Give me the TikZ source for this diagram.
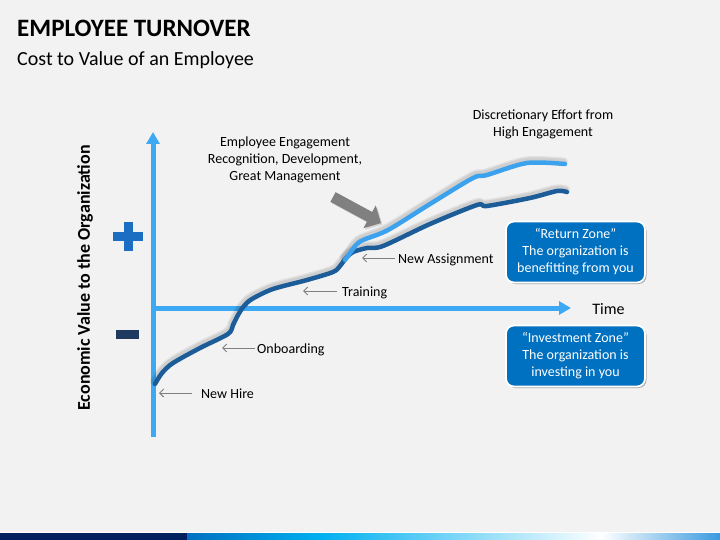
\documentclass[tikz,border=0pt]{standalone}
\usepackage{fontspec}
\setmainfont{Carlito}
\usetikzlibrary{arrows.meta,shadows}
\definecolor{bg}{HTML}{F2F2F2}
\definecolor{axisblue}{HTML}{3DA9F4}
\definecolor{darkcurve}{HTML}{1C5C99}
\definecolor{lightcurve}{HTML}{3CA2EE}
\definecolor{boxblue}{HTML}{0070C0}
\definecolor{plusblue}{HTML}{1B6EC2}
\definecolor{minusnavy}{HTML}{1F3A5F}
\definecolor{arrgray}{HTML}{808080}
\definecolor{lblgray}{HTML}{7F7F7F}
\definecolor{barnavy}{HTML}{002060}
\definecolor{barblue}{HTML}{0070C0}
\definecolor{barcyan}{HTML}{00B0F0}
\definecolor{barend}{HTML}{3A9AE0}
\tikzset{
  axisline/.style={draw=axisblue, line width=5pt, -{Triangle[width=13pt,length=12pt]}},
  curveshadow/.style={draw=black, opacity=0.07, line width=8pt, line cap=round, line join=round},
  curveshadowin/.style={draw=black, opacity=0.08, line width=5pt, line cap=round, line join=round},
  darkline/.style={draw=darkcurve, line width=4.5pt, line cap=round, line join=round},
  lightline/.style={draw=lightcurve, line width=4.5pt, line cap=round, line join=round},
  lbl/.style={font=\fontsize{14}{17}\selectfont, inner sep=0pt, anchor=base west},
  lblarrow/.style={draw=lblgray, line width=1pt, -{Straight Barb[length=4pt,width=8pt]}},
  note/.style={font=\fontsize{14}{17}\selectfont, align=center, inner sep=0pt, anchor=base},
  zonebox/.style={fill=boxblue, draw=white, line width=1.8pt, rounded corners=8pt,
    minimum width=139pt, minimum height=61pt, align=center, text=white, inner sep=0pt,
    font=\fontsize{14}{17}\selectfont,
    drop shadow={shadow xshift=1.5pt, shadow yshift=-1.5pt, opacity=0.3, fill=black}},
}
\begin{document}
\begin{tikzpicture}[x=1pt,y=-1pt]
\fill[bg] (0,0) rectangle (720,540);
\useasboundingbox (0,0) rectangle (720,540);

% bottom bar
\fill[white] (0,531.5) rectangle (720,533);
\fill[barnavy] (0,533) rectangle (187,540);
\shade[left color=barblue, right color=barcyan] (187,533) rectangle (321,540);
\shade[left color=barcyan, right color=white] (321,533) rectangle (601,540);
\shade[left color=white, right color=barend] (601,533) rectangle (720,540);

% title
\node[anchor=base west, inner sep=0pt, font=\fontsize{25}{30}\selectfont\bfseries] (title) at (17,36.5) {EMPLOYEE TURNOVER};
\node[anchor=base west, inner sep=0pt, font=\fontsize{20}{24}\selectfont] (subtitle) at (17,66) {Cost to Value of an Employee};

% axes
\coordinate (origin) at (153,437);
\coordinate (ytop) at (153,132);
\coordinate (xleft) at (153,308);
\coordinate (xright) at (571,308);
\draw[axisline] (origin) -- (ytop);
\draw[axisline] (xleft) -- (xright);
\node[anchor=center, inner sep=0pt, font=\fontsize{16}{19}\selectfont] (time) at (608.5,309) {Time};
\node[rotate=90, inner sep=0pt, font=\fontsize{18}{22}\selectfont\bfseries] (ylabel) at (85,278) {Economic Value to the Organization};

% plus and minus
\fill[plusblue] (113,232) rectangle (143,241);
\fill[plusblue] (124,222) rectangle (133,251);
\fill[minusnavy] (116,330) rectangle (139,339);

% curves: shadows
\begin{scope}[shift={(-1,-2.5)}]
\draw[curveshadow] plot[smooth, tension=0.5] coordinates {(155,384) (162,373) (173,363) (200,348) (228,334) (233,325) (238,315) (244,306) (252,299) (273,289) (307,280) (333,272) (340,266) (346,258) (353,252) (367,248) (383,246) (430,224) (477,205) (487,206) (530,198) (557,191) (567,192)};
\draw[curveshadowin] plot[smooth, tension=0.5] coordinates {(155,384) (162,373) (173,363) (200,348) (228,334) (233,325) (238,315) (244,306) (252,299) (273,289) (307,280) (333,272) (340,266) (346,258) (353,252) (367,248) (383,246) (430,224) (477,205) (487,206) (530,198) (557,191) (567,192)};
\draw[curveshadow] plot[smooth, tension=0.5] coordinates {(345,260) (350,253) (356,245) (363,240) (388,230) (430,204) (473,178) (487,175) (527,163) (565,164)};
\draw[curveshadowin] plot[smooth, tension=0.5] coordinates {(345,260) (350,253) (356,245) (363,240) (388,230) (430,204) (473,178) (487,175) (527,163) (565,164)};
\end{scope}
% curves
\draw[darkline] plot[smooth, tension=0.5] coordinates {(155,384) (162,373) (173,363) (200,348) (228,334) (233,325) (238,315) (244,306) (252,299) (273,289) (307,280) (333,272) (340,266) (346,258) (353,252) (367,248) (383,246) (430,224) (477,205) (487,206) (530,198) (557,191) (567,192)};
\draw[lightline] plot[smooth, tension=0.5] coordinates {(345,260) (350,253) (356,245) (363,240) (388,230) (430,204) (473,178) (487,175) (527,163) (565,164)};

% engagement arrow
\coordinate (engstart) at (333,197);
\coordinate (engtip) at (381,223);
\draw[draw=black, opacity=0.12, line width=11pt, -{Triangle[width=25pt,length=13pt]}] ([shift={(1.5,1.5)}]engstart) -- ([shift={(1.5,1.5)}]engtip);
\draw[draw=arrgray, line width=11pt, -{Triangle[width=25pt,length=13pt]}] (engstart) -- (engtip);

% notes
\node[note] (engage) at (285,181) {Employee Engagement\\Recognition, Development,\\Great Management};
\node[note] (discr) at (543,137) {Discretionary Effort from\\High Engagement};

% labels with arrows
\node[lbl] (newhire) at (201,398) {New Hire};
\coordinate (newhirept) at (159,393);
\draw[lblarrow] ([xshift=-9pt]newhire.west |- newhirept) -- (newhirept);

\node[lbl] (onboard) at (257,353) {Onboarding};
\coordinate (onboardpt) at (222,348);
\draw[lblarrow] ([xshift=-2pt]onboard.west |- onboardpt) -- (onboardpt);

\node[lbl] (training) at (342,296) {Training};
\coordinate (trainingpt) at (303,291);
\draw[lblarrow] ([xshift=-5pt]training.west |- trainingpt) -- (trainingpt);

\node[lbl] (newassign) at (398,263) {New Assignment};
\coordinate (newassignpt) at (362,258);
\draw[lblarrow] ([xshift=-3pt]newassign.west |- newassignpt) -- (newassignpt);

% zone boxes
\node[zonebox] (returnzone) at (575.5,252) {``Return Zone''\\The organization is\\benefitting from you};
\node[zonebox] (investzone) at (575.5,356) {``Investment Zone''\\The organization is\\investing in you};
\end{tikzpicture}
\end{document}
